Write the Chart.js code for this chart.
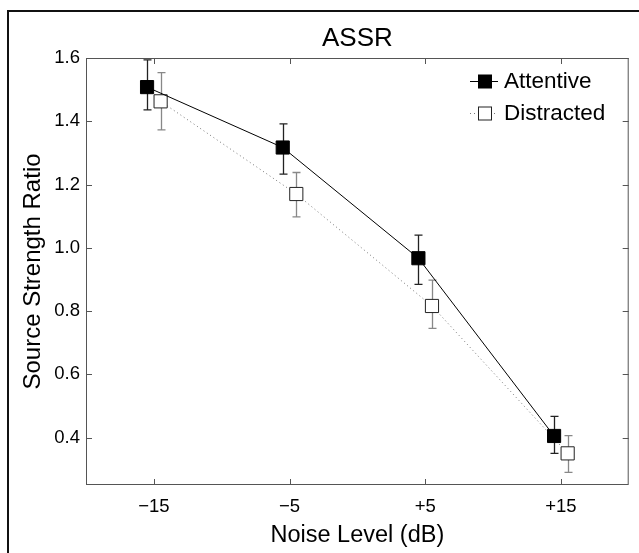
<!DOCTYPE html>
<html lang="en">
  <head>
    <meta charset="UTF-8" />
    <title>ASSR</title>
    <script src="https://cdn.jsdelivr.net/npm/chart.js"></script>
    <style>
      html, body { margin: 0; padding: 0; background: #fff; }
      canvas { display: block; }
    </style>
  </head>
  <body>
    <canvas id="chart" width="639" height="553"></canvas>
    <script>
      // data
      const noiseLevels = [-15, -5, 5, 15];
      const noiseLabels = ["\u221215", "\u22125", "+5", "+15"];
      const yTicks = [0.4, 0.6, 0.8, 1.0, 1.2, 1.4, 1.6];

      const attentive = [1.508, 1.317, 0.967, 0.405];
      const attentiveLow = [1.436, 1.233, 0.884, 0.35];
      const attentiveHigh = [1.594, 1.392, 1.04, 0.467];

      const distracted = [1.463, 1.17, 0.816, 0.35];
      const distractedLow = [1.373, 1.098, 0.745, 0.29];
      const distractedHigh = [1.554, 1.238, 0.898, 0.406];

      const dodge = 0.5; // the two groups are shifted apart a little
      const FONT = "'Liberation Sans', Arial, Helvetica, sans-serif";

      const series = [
        {
          label: "Attentive",
          values: attentive, low: attentiveLow, high: attentiveHigh, shift: -dodge,
          line: "#000", dash: [], fill: "#000", edge: "#000", bar: "#222",
        },
        {
          label: "Distracted",
          values: distracted, low: distractedLow, high: distractedHigh, shift: dodge,
          line: "#777", dash: [1, 3], fill: "#fff", edge: "#222", bar: "#888",
        },
      ];

      const extras = {
        id: "extras",
        beforeDraw(chart) {
          const ctx = chart.ctx;
          ctx.save();
          ctx.fillStyle = "#fff";
          ctx.fillRect(0, 0, chart.width, chart.height);
          // outer frame, only top and left show in the figure
          ctx.strokeStyle = "#111";
          ctx.lineWidth = 2;
          ctx.beginPath();
          ctx.moveTo(chart.width, 11);
          ctx.lineTo(8, 11);
          ctx.lineTo(8, chart.height);
          ctx.stroke();
          ctx.restore();
        },
        beforeDatasetsDraw(chart) {
          const ctx = chart.ctx;
          const xs = chart.scales.x, ys = chart.scales.y;
          ctx.save();
          ctx.lineWidth = 1.3;
          series.forEach((s) => {
            ctx.strokeStyle = s.bar;
            noiseLevels.forEach((lvl, i) => {
              const px = Math.round(xs.getPixelForValue(lvl + s.shift)) + 0.5;
              const top = ys.getPixelForValue(s.high[i]);
              const bot = ys.getPixelForValue(s.low[i]);
              ctx.beginPath();
              ctx.moveTo(px, top);
              ctx.lineTo(px, bot);
              ctx.moveTo(px - 4, top);
              ctx.lineTo(px + 4, top);
              ctx.moveTo(px - 4, bot);
              ctx.lineTo(px + 4, bot);
              ctx.stroke();
            });
          });
          ctx.restore();
        },
        afterDraw(chart) {
          const ctx = chart.ctx;
          const a = chart.chartArea;
          const xs = chart.scales.x, ys = chart.scales.y;
          ctx.save();
          // axes box with inward ticks on all sides
          ctx.strokeStyle = "#555";
          ctx.lineWidth = 1;
          ctx.strokeRect(a.left + 0.5, a.top + 0.5, a.right - a.left - 1, a.bottom - a.top - 1);
          ctx.beginPath();
          noiseLevels.forEach((v) => {
            const px = Math.round(xs.getPixelForValue(v)) + 0.5;
            ctx.moveTo(px, a.bottom);
            ctx.lineTo(px, a.bottom - 6);
            ctx.moveTo(px, a.top);
            ctx.lineTo(px, a.top + 6);
          });
          yTicks.forEach((v) => {
            const py = Math.round(ys.getPixelForValue(v)) + 0.5;
            ctx.moveTo(a.left, py);
            ctx.lineTo(a.left + 6, py);
            ctx.moveTo(a.right, py);
            ctx.lineTo(a.right - 6, py);
          });
          ctx.stroke();

          // title
          ctx.fillStyle = "#000";
          ctx.font = "26px " + FONT;
          ctx.textAlign = "center";
          ctx.textBaseline = "middle";
          ctx.fillText("ASSR", (a.left + a.right) / 2, 39);

          // legend
          ctx.font = "22.5px " + FONT;
          ctx.textAlign = "left";
          series.forEach((s, i) => {
            const y = 81 + i * 32;
            ctx.strokeStyle = s.line;
            ctx.setLineDash(s.dash);
            ctx.beginPath();
            ctx.moveTo(470, y + 0.5);
            ctx.lineTo(498, y + 0.5);
            ctx.stroke();
            ctx.setLineDash([]);
            ctx.fillStyle = s.fill;
            ctx.fillRect(478.5, y - 6, 13, 13);
            ctx.strokeStyle = s.edge;
            ctx.strokeRect(478.5, y - 6, 13, 13);
            ctx.fillStyle = "#000";
            ctx.fillText(s.label, 504, y + 1);
          });
          ctx.restore();
        },
      };

      new Chart(document.getElementById("chart"), {
        type: "scatter",
        data: {
          datasets: series.map((s) => ({
            label: s.label,
            data: s.values.map((v, i) => ({ x: noiseLevels[i] + s.shift, y: v })),
            showLine: true,
            borderColor: s.line,
            borderWidth: 1,
            borderDash: s.dash,
            pointStyle: "rect",
            pointRadius: 9.3,
            pointBackgroundColor: s.fill,
            pointBorderColor: s.edge,
            pointBorderWidth: 1,
          })),
        },
        options: {
          responsive: false,
          animation: false,
          devicePixelRatio: 1,
          layout: { padding: { top: 58, right: 5, left: 0, bottom: 0 } },
          plugins: { legend: { display: false }, tooltip: { enabled: false } },
          scales: {
            x: {
              type: "linear",
              min: -20,
              max: 20,
              afterBuildTicks: (s) => { s.ticks = noiseLevels.map((v) => ({ value: v })); },
              afterFit: (s) => { s.height = 68; },
              grid: { display: false, drawTicks: false },
              border: { display: false },
              ticks: {
                padding: 11,
                color: "#000",
                font: { family: FONT, size: 18.5 },
                callback: (v) => noiseLabels[noiseLevels.indexOf(v)],
              },
              title: {
                display: true,
                text: "Noise Level (dB)",
                color: "#000",
                font: { family: FONT, size: 23.5 },
                padding: { top: 0, bottom: 3 },
              },
            },
            y: {
              min: 0.25,
              max: 1.6,
              afterBuildTicks: (s) => { s.ticks = yTicks.map((v) => ({ value: v })); },
              afterFit: (s) => { s.width = 86; },
              grid: { display: false, drawTicks: false },
              border: { display: false },
              ticks: {
                padding: 6,
                color: "#000",
                font: { family: FONT, size: 18.5 },
                callback: (v) => v.toFixed(1),
              },
              title: {
                display: true,
                text: "Source Strength Ratio",
                color: "#000",
                font: { family: FONT, size: 24 },
                padding: { top: 19, bottom: 0 },
              },
            },
          },
        },
        plugins: [extras],
      });
    </script>
  </body>
</html>
